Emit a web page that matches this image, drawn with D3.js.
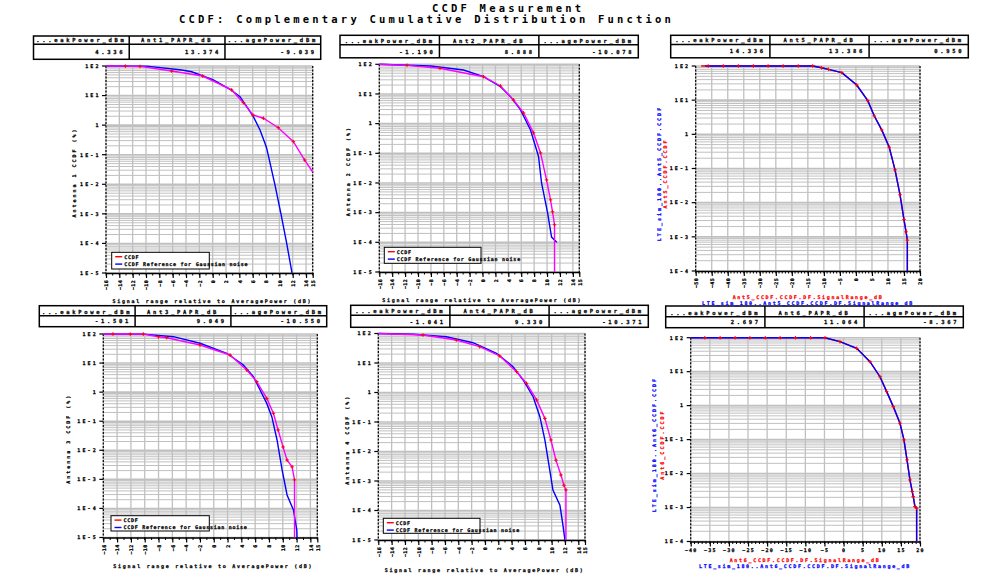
<!DOCTYPE html>
<html><head><meta charset="utf-8">
<script src="https://cdn.jsdelivr.net/npm/d3@7"></script>
<style>
body{margin:0;background:#fff}
text{font-family:"DejaVu Sans Mono",monospace;font-weight:bold;fill:#000}
.bold{stroke:#000;stroke-width:0.25}
</style>
</head><body>
<svg id="c" width="1008" height="582"></svg>
<script>
// ---------------- DATA ----------------
const titleLine1 = "CCDF Measurement";
const titleLine2 = "CCDF: Complementary Cumulative Distribution Function";
const colHeaders = ["...eakPower_dBm", "_PAPR_dB", "...agePower_dBm"];
const antNames = ["Ant1", "Ant2", "Ant5", "Ant3", "Ant4", "Ant6"];
const peakPower = ["4.336", "-1.190", "14.336", "-1.501", "-1.041", "2.697"];
const paprDb = ["13.374", "8.888", "13.386", "9.049", "9.330", "11.064"];
const avgPower = ["-9.039", "-10.078", "0.950", "-10.550", "-10.371", "-8.367"];

const leftXTicks = [-16,-14,-12,-10,-8,-6,-4,-2,0,2,4,6,8,10,12,14,15];
const rightTopXTicks = [-50,-45,-40,-35,-30,-25,-20,-15,-10,-5,0,5,10,15,20];
const rightBotXTicks = [-40,-35,-30,-25,-20,-15,-10,-5,0,5,10,15,20];
const leftYTicks = ["1E2","1E1","1","1E-1","1E-2","1E-3","1E-4","1E-5"];
const rightYTicks = ["1E2","1E1","1","1E-1","1E-2","1E-3","1E-4"];
const legendLabels = ["CCDF", "CCDF Reference for Gaussian noise"];
const xAxisTitle = "Signal range relative to AveragePower (dB)";

// Antenna 1
const ant1MeasDb  = [-16, -13.1, -10.9, -6.15, -1.5, 2.85, 4.6, 6.04, 7.6, 9.84, 12.1, 13.8, 15];
const ant1MeasPct = [100, 98.9, 96.7, 67.8, 45.9, 15.5, 5.75, 2.2, 1.71, 0.82, 0.277, 0.066, 0.026];
const ant1RefDb   = [-16, -9.9, -4.65, -3.15, 0.1, 2.6, 4.1, 5.1, 6.1, 7.1, 7.84, 8.1, 9.34, 10.24, 11.1, 11.9];
const ant1RefPct  = [100, 99, 73, 64, 33.6, 16.3, 9.2, 4.2, 1.94, 0.69, 0.245, 0.166, 0.0095, 0.001, 1e-4, 1e-5];
// Antenna 2
const ant2MeasDb  = [-16, -11.7, -6.6, 0.16, 2.79, 4.8, 6.36, 7.9, 8.99, 9.92, 10.54, 10.85, 11.16, 11.16];
const ant2MeasPct = [100, 92, 73.3, 38.2, 18.6, 6.3, 2.3, 0.49, 0.103, 0.0127, 0.0027, 0.00107, 3.9e-4, 1e-5];
const ant2RefDb   = [-16, -8.06, -2.95, 0.16, 2.79, 4.34, 5.89, 7.44, 8.68, 9.15, 10.08, 10.7, 11.5];
const ant2RefPct  = [100, 87.7, 64.3, 38.2, 17.6, 8.1, 2.9, 0.61, 0.078, 0.01, 0.001, 1.5e-4, 1e-4];
// Antenna 5 (top right): measured and simulated LTE traces
const ant5MeasDb  = [-48.3, -46.1, -41.4, -36.7, -32.0, -27.4, -22.7, -18.0, -13.5, -10.7, -8.6, -4.4, 0.25, 3.7, 5.74, 8.05, 10.4, 12.2, 13.77, 15.0, 15.65, 16.05, 16.05];
const ant5MeasPct = [100, 100, 100, 100, 100, 100, 100, 100, 100, 89, 80, 63.7, 27.8, 9.7, 3.45, 1.35, 0.42, 0.091, 0.017, 0.0032, 0.0014, 8e-4, 1e-4];
const ant5SimDb   = [-47, -41.4, -32.0, -22.7, -13.5, -10.7, -8.6, -4.4, 0.25, 3.7, 5.74, 8.05, 10.4, 12.2, 13.77, 15.0, 15.65, 16.05, 16.05];
const ant5SimPct  = [100, 100, 100, 100, 100, 89, 80, 63.7, 27.8, 9.7, 3.45, 1.35, 0.42, 0.091, 0.017, 0.0032, 0.0014, 8e-4, 1e-4];
// Antenna 3
const ant3MeasDb  = [-16, -14.6, -12.1, -10.2, -8.0, -6.8, -1.99, 2.36, 4.78, 6.23, 7.68, 8.64, 9.32, 10.04, 10.62, 11.35, 11.7, 11.7];
const ant3MeasPct = [100, 100, 99.5, 99.5, 80, 74.6, 41.9, 19, 5.8, 2.29, 0.61, 0.187, 0.05, 0.013, 0.0046, 0.0027, 9.6e-4, 1e-5];
const ant3RefDb   = [-16, -10.2, -5.86, -1.99, 1.88, 4.29, 5.74, 6.71, 7.68, 8.41, 9.17, 9.9, 10.62, 11.54, 12.03, 12.07];
const ant3RefPct  = [100, 99, 80.8, 47.9, 21.7, 8.6, 3.4, 1.19, 0.41, 0.143, 0.0226, 0.0021, 2.9e-4, 8.9e-5, 1.8e-5, 1e-5];
// Antenna 4
const ant4MeasDb  = [-16, -9.3, -4.3, -0.8, 2.21, 4.73, 6.23, 7.74, 8.98, 9.89, 10.64, 11.39, 11.84, 12.14, 12.14];
const ant4MeasPct = [100, 89, 60, 35.7, 17.3, 5.1, 2.05, 0.56, 0.133, 0.0246, 0.0051, 0.0016, 7.2e-4, 5e-4, 1e-5];
const ant4RefDb   = [-16, -10.8, -5.8, -1.8, 1.72, 4.21, 5.72, 7.22, 8.23, 8.98, 9.59, 10.19, 11.24, 11.69, 11.99];
const ant4RefPct  = [100, 94, 77.6, 48.8, 21.3, 7.5, 2.65, 0.72, 0.151, 0.0246, 0.0035, 4.95e-4, 1.5e-4, 3.2e-5, 1e-5];
// Antenna 6 (bottom right)
const ant6MeasDb  = [-40, -36.3, -32.3, -28.4, -24.5, -20.5, -16.6, -12.6, -8.6, -4.87, -0.94, 3.43, 6.91, 9.53, 11.28, 13.01, 14.76, 15.8, 16.6, 17.37, 17.97, 18.24, 18.68, 19.12, 19.12];
const ant6MeasPct = [100, 100, 100, 100, 100, 100, 100, 100, 100, 100, 76.3, 48.7, 19.7, 7.1, 2.58, 0.935, 0.303, 0.098, 0.0253, 0.0065, 0.00295, 0.0021, 0.00107, 9.6e-4, 1e-4];
const ant6SimDb   = [-40, -20.5, -4.87, -0.94, 3.43, 6.91, 9.53, 11.28, 13.01, 14.76, 15.8, 16.6, 17.37, 17.97, 18.24, 18.68, 19.12, 19.12];
const ant6SimPct  = [100, 100, 100, 76.3, 48.7, 19.7, 7.1, 2.58, 0.935, 0.303, 0.098, 0.0253, 0.0065, 0.00295, 0.0021, 0.00107, 9.6e-4, 1e-4];

// ---------------- DRAWING ----------------
const svg = d3.select("#c");
const zip = (a, b) => a.map((v, i) => [v, b[i]]);
const GRID = "#c0c0c0";

svg.append("text").attr("x", 432).attr("y", 11.5).attr("font-size", 10.5)
  .attr("letter-spacing", 3.2).text(titleLine1);
svg.append("text").attr("x", 179).attr("y", 22.7).attr("font-size", 10.5)
  .attr("letter-spacing", 3.2).text(titleLine2);

function drawTable(t, i) {
  const g = svg.append("g");
  const w = (t.x1 - t.x0) / 3;
  g.append("rect").attr("x", t.x0).attr("y", t.y0).attr("width", t.x1 - t.x0)
    .attr("height", t.y2 - t.y0).attr("fill", "none").attr("stroke", "#000").attr("stroke-width", 1.5);
  g.append("line").attr("x1", t.x0).attr("x2", t.x1).attr("y1", t.y1).attr("y2", t.y1)
    .attr("stroke", "#000").attr("stroke-width", 1.5);
  [1, 2].forEach(k => g.append("line").attr("x1", t.x0 + k * w).attr("x2", t.x0 + k * w)
    .attr("y1", t.y0).attr("y2", t.y2).attr("stroke", "#000").attr("stroke-width", 1.5));
  const heads = [colHeaders[0], antNames[i] + colHeaders[1], colHeaders[2]];
  const vals = [peakPower[i], paprDb[i], avgPower[i]];
  heads.forEach((h, k) => g.append("text").attr("class", "bold").attr("x", t.x0 + (k + 0.5) * w).attr("y", t.y1 - 2.2)
    .attr("text-anchor", "middle").attr("font-size", 5.5).attr("letter-spacing", 2.7).text(h));
  vals.forEach((v, k) => g.append("text").attr("class", "bold").attr("x", t.x0 + (k + 1) * w - 4).attr("y", (t.y1 + t.y2) / 2 + 2.2)
    .attr("text-anchor", "end").attr("font-size", 5.5).attr("letter-spacing", 2.7).text(v));
}

function drawPanel(p, idx) {
  const x = d3.scaleLinear().domain(p.xDomain).range([p.x0, p.x1]);
  const y = d3.scaleLog().domain(p.yDomain).range([p.y1, p.y0]);
  const g = svg.append("g");
  const e0 = Math.round(Math.log10(p.yDomain[0])), e1 = Math.round(Math.log10(p.yDomain[1]));
  const minor = [];
  for (let e = e0; e < e1; e++) for (let k = 2; k <= 9; k++) minor.push(k * Math.pow(10, e));
  const majors = d3.range(e0, e1 + 1).map(e => Math.pow(10, e));
  g.selectAll(null).data(minor).join("line")
    .attr("x1", p.x0).attr("x2", p.x1).attr("y1", d => y(d)).attr("y2", d => y(d))
    .attr("stroke", GRID).attr("stroke-width", 1);
  g.selectAll(null).data(majors).join("line")
    .attr("x1", p.x0).attr("x2", p.x1).attr("y1", d => y(d)).attr("y2", d => y(d))
    .attr("stroke", GRID).attr("stroke-width", 1.6);
  g.selectAll(null).data(p.xTicks).join("line")
    .attr("x1", d => x(d)).attr("x2", d => x(d)).attr("y1", p.y0).attr("y2", p.y1)
    .attr("stroke", GRID).attr("stroke-width", 1.3);
  [p.x0, p.x1].forEach(xx => g.append("line").attr("x1", xx).attr("x2", xx).attr("y1", p.y0).attr("y2", p.y1)
    .attr("stroke", "#000").attr("stroke-width", 1.2).attr("stroke-dasharray", "2,1.5"));
  g.selectAll(null).data(majors).join("line")
    .attr("x1", p.x0 - 4).attr("x2", p.x0).attr("y1", d => y(d)).attr("y2", d => y(d))
    .attr("stroke", "#000").attr("stroke-width", 1.2);
  const yl = majors.slice().reverse();
  g.selectAll(null).data(yl).join("text").attr("class", "bold")
    .attr("x", p.x0 - 5.5).attr("y", d => y(d) + 1.8).attr("text-anchor", "end")
    .attr("font-size", 5).attr("letter-spacing", 2.1).text((d, i) => p.yLabels[i]);
  const minorX = d3.range(Math.ceil(p.xDomain[0]), Math.floor(p.xDomain[1]) + 1, 1);
  g.selectAll(null).data(minorX).join("line")
    .attr("x1", d => x(d)).attr("x2", d => x(d)).attr("y1", p.y1).attr("y2", p.y1 + 2.5)
    .attr("stroke", "#000").attr("stroke-width", 1);
  const ax = d3.axisBottom(x).tickValues(p.xTicks).tickSize(5).tickSizeOuter(0).tickFormat(d3.format("d"));
  const axg = g.append("g").attr("transform", `translate(0,${p.y1})`).call(ax);
  axg.select(".domain").attr("stroke", "#000").attr("stroke-width", 1.5);
  axg.selectAll(".tick line").attr("stroke", "#000").attr("stroke-width", 1.2);
  axg.selectAll(".tick text").attr("class", "bold").attr("font-size", 5).attr("font-family", "DejaVu Sans Mono")
    .attr("font-weight", "bold").attr("fill", "#000");
  if (p.rotateX) {
    axg.selectAll(".tick text").attr("transform", "rotate(-90)").attr("text-anchor", "end")
      .attr("x", -7).attr("y", 0).attr("dy", "0.35em").attr("letter-spacing", 0.3);
  } else {
    axg.selectAll(".tick text").attr("y", 7).attr("dy", "0.71em").attr("letter-spacing", 1.2);
  }
  const clipId = "clip" + idx;
  svg.append("clipPath").attr("id", clipId).append("rect")
    .attr("x", p.x0 - 1).attr("y", p.y0 - 2).attr("width", p.x1 - p.x0 + 2).attr("height", p.y1 - p.y0 + 3);
  const line = d3.line().x(d => x(d[0])).y(d => y(d[1]));
  const cg = g.append("g").attr("clip-path", `url(#${clipId})`);
  p.series.forEach(s => {
    cg.append("path").datum(s.data).attr("d", line).attr("fill", "none")
      .attr("stroke", s.color).attr("stroke-width", 1.4);
  });
  const md = p.markers.slice(1, -1);
  cg.selectAll(null).data(md).join("path")
    .attr("d", d => { const cx = x(d[0]), cy = y(d[1]); return `M${cx - 1.8},${cy}H${cx + 1.8}M${cx},${cy - 1.8}V${cy + 1.8}`; })
    .attr("stroke", "#ff0000").attr("stroke-width", 1);
  if (p.yTitle) {
    g.append("text").attr("class", "bold").attr("transform", `translate(${p.yTitleX},${(p.y0 + p.y1) / 2 + 3}) rotate(-90)`)
      .attr("text-anchor", "middle").attr("font-size", 5).attr("letter-spacing", 2).text(p.yTitle);
  }
  if (p.xTitle) {
    g.append("text").attr("class", "bold").attr("x", (p.x0 + p.x1) / 2 + 3).attr("y", p.xTitleY).attr("text-anchor", "middle")
      .attr("font-size", 5).attr("letter-spacing", 1.75).text(p.xTitle);
  }
  if (p.legend) {
    const L = p.legend;
    g.append("rect").attr("x", L.x).attr("y", L.y).attr("width", L.w).attr("height", L.h)
      .attr("fill", "#fff").attr("stroke", "#000").attr("stroke-width", 1);
    ["#ff0000", "#0000ff"].forEach((c, k) => {
      const yy = L.y + 4.4 + k * 7.4;
      g.append("line").attr("x1", L.x + 3.5).attr("x2", L.x + 10.5).attr("y1", yy).attr("y2", yy)
        .attr("stroke", c).attr("stroke-width", 1.4);
      g.append("text").attr("class", "bold").attr("x", L.x + 12.5).attr("y", yy + 1.8).attr("font-size", 5)
        .attr("letter-spacing", 0.75).text(legendLabels[k]);
    });
  }
  if (p.simLabels) {
    const S = p.simLabels, cy = (p.y0 + p.y1) / 2 + 5;
    const col = (sel, c) => sel.style("fill", c).style("stroke", c).style("stroke-width", 0.25);
    col(g.append("text").attr("transform", `translate(${S.yBlueX},${cy}) rotate(-90)`).attr("text-anchor", "middle")
      .attr("font-size", 5).attr("letter-spacing", 2).text(S.yBlue), "#0000ff");
    col(g.append("text").attr("transform", `translate(${S.yRedX},${cy}) rotate(-90)`).attr("text-anchor", "middle")
      .attr("font-size", 5).attr("letter-spacing", 2).text(S.yRed), "#ff0000");
    col(g.append("text").attr("x", S.cx).attr("y", S.xRedY).attr("text-anchor", "middle")
      .attr("font-size", 5).attr("letter-spacing", 1.7).text(S.xRed), "#ff0000");
    col(g.append("text").attr("x", S.cx).attr("y", S.xBlueY).attr("text-anchor", "middle")
      .attr("font-size", 5).attr("letter-spacing", 1.7).text(S.xBlue), "#0000ff");
  }
}

const MAG = "#ff00ff", BLUE = "#0000ff", RED = "#ff0000";
const tables = [
  {x0: 33.5, x1: 320.7, y0: 36, y1: 44.3, y2: 59.3},
  {x0: 340, x1: 638.3, y0: 35.3, y1: 44.8, y2: 57.8},
  {x0: 670.7, x1: 968.3, y0: 35.3, y1: 44.5, y2: 57.8},
  {x0: 39.3, x1: 326.7, y0: 305.7, y1: 315.7, y2: 326.7},
  {x0: 350.7, x1: 648.3, y0: 305.3, y1: 315.3, y2: 327.3},
  {x0: 665.7, x1: 963.3, y0: 306, y1: 316.7, y2: 327.7}
];
tables.forEach(drawTable);

const panels = [
  {x0: 106, x1: 312.7, y0: 66, y1: 273, xDomain: [-16, 15], yDomain: [1e-5, 100], xTicks: leftXTicks,
   yLabels: leftYTicks, rotateX: true, yTitle: "Antenna 1 CCDF (%)", yTitleX: 75.5, xTitle: xAxisTitle, xTitleY: 302.5,
   legend: {x: 111.7, y: 252.3, w: 97.6, h: 16.7},
   series: [{data: zip(ant1RefDb, ant1RefPct), color: BLUE}, {data: zip(ant1MeasDb, ant1MeasPct), color: MAG}],
   markers: zip(ant1MeasDb, ant1MeasPct)},
  {x0: 379.3, x1: 579.3, y0: 64.3, y1: 272, xDomain: [-16, 15], yDomain: [1e-5, 100], xTicks: leftXTicks,
   yLabels: leftYTicks, rotateX: true, yTitle: "Antenna 2 CCDF (%)", yTitleX: 350, xTitle: xAxisTitle, xTitleY: 301.5,
   legend: {x: 384.3, y: 247.3, w: 96.7, h: 16},
   series: [{data: zip(ant2RefDb, ant2RefPct), color: BLUE}, {data: zip(ant2MeasDb, ant2MeasPct), color: MAG}],
   markers: zip(ant2MeasDb, ant2MeasPct)},
  {x0: 695.7, x1: 920, y0: 66, y1: 271, xDomain: [-50, 20], yDomain: [1e-4, 100], xTicks: rightTopXTicks,
   yLabels: rightYTicks, rotateX: true,
   simLabels: {yBlue: "LTE_sim_180..Ant5_CCDF.CCDF", yRed: "Ant5_CCDF.CCDF", yBlueX: 660.5, yRedX: 667,
     xRed: "Ant5_CCDF.CCDF.DF.SignalRange_dB", xBlue: "LTE_sim_180..Ant5_CCDF.CCDF.DF.SignalRange_dB",
     cx: 808, xRedY: 299, xBlueY: 305},
   series: [{data: zip(ant5MeasDb, ant5MeasPct), color: RED}, {data: zip(ant5SimDb, ant5SimPct), color: BLUE}],
   markers: zip(ant5MeasDb, ant5MeasPct)},
  {x0: 103.3, x1: 317.3, y0: 334, y1: 537.5, xDomain: [-16, 15], yDomain: [1e-5, 100], xTicks: leftXTicks,
   yLabels: leftYTicks, rotateX: true, yTitle: "Antenna 3 CCDF (%)", yTitleX: 70, xTitle: xAxisTitle, xTitleY: 567.5,
   legend: {x: 111, y: 515.7, w: 98.3, h: 15.3},
   series: [{data: zip(ant3RefDb, ant3RefPct), color: BLUE}, {data: zip(ant3MeasDb, ant3MeasPct), color: MAG}],
   markers: zip(ant3MeasDb, ant3MeasPct)},
  {x0: 378.3, x1: 585, y0: 333.5, y1: 540, xDomain: [-16, 15], yDomain: [1e-5, 100], xTicks: leftXTicks,
   yLabels: leftYTicks, rotateX: true, yTitle: "Antenna 4 CCDF (%)", yTitleX: 349, xTitle: xAxisTitle, xTitleY: 571.5,
   legend: {x: 383.3, y: 518.3, w: 96.7, h: 15},
   series: [{data: zip(ant4RefDb, ant4RefPct), color: BLUE}, {data: zip(ant4MeasDb, ant4MeasPct), color: MAG}],
   markers: zip(ant4MeasDb, ant4MeasPct)},
  {x0: 690.7, x1: 920, y0: 337.7, y1: 541.5, xDomain: [-40, 20], yDomain: [1e-4, 100], xTicks: rightBotXTicks,
   yLabels: rightYTicks, rotateX: false,
   simLabels: {yBlue: "LTE_sim_180..Ant6_CCDF.CCDF", yRed: "Ant6_CCDF.CCDF", yBlueX: 656, yRedX: 664,
     xRed: "Ant6_CCDF.CCDF.DF.SignalRange_dB", xBlue: "LTE_sim_180..Ant6_CCDF.CCDF.DF.SignalRange_dB",
     cx: 805, xRedY: 561.5, xBlueY: 567.5},
   series: [{data: zip(ant6MeasDb, ant6MeasPct), color: RED}, {data: zip(ant6SimDb, ant6SimPct), color: BLUE}],
   markers: zip(ant6MeasDb, ant6MeasPct)}
];
panels.forEach(drawPanel);
</script>
</body></html>
